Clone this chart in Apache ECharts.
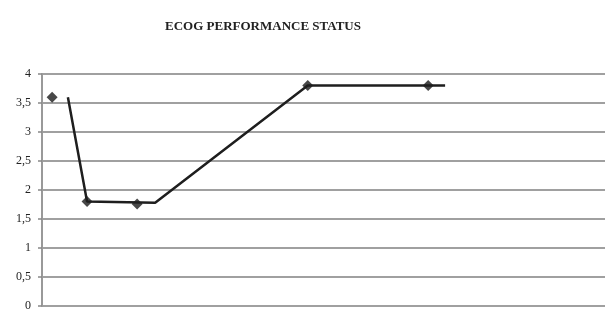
<!DOCTYPE html>
<html>
<head>
<meta charset="utf-8">
<script src="https://cdn.jsdelivr.net/npm/echarts@6/dist/echarts.min.js"></script>
<style>
    html, body { margin: 0; padding: 0; background: #fff; }
    #chart { width: 605px; height: 313px; }
</style>
</head>
<body>
<div id="chart"></div>
<script>
    // line path as it appears in the scan (x on a 0-100 scale across the plot)
    var lineX = [4.6, 8.0, 20.1, 47.2, 71.6];
    var lineY = [3.6, 1.8, 1.78, 3.8, 3.8];
    // diamond markers
    var markX = [1.8, 8.0, 16.9, 47.2, 68.6];
    var markY = [3.6, 1.8, 1.76, 3.8, 3.8];
    var yTicks = [0, 0.5, 1, 1.5, 2, 2.5, 3, 3.5, 4];

    var chart = echarts.init(document.getElementById('chart'));
    chart.setOption({
        animation: false,
        title: {
            text: 'ECOG PERFORMANCE STATUS',
            left: 258,
            textAlign: 'center',
            top: 15,
            textStyle: {
                fontFamily: 'Liberation Serif',
                fontSize: 13,
                fontWeight: 'bold',
                color: '#222'
            }
        },
        grid: { left: 42, right: 0, top: 74, bottom: 7 },
        xAxis: {
            type: 'value',
            min: 0,
            max: 100,
            show: false
        },
        yAxis: {
            type: 'value',
            min: 0,
            max: 4,
            interval: 0.5,
            axisLine: { show: true, lineStyle: { color: '#999', width: 2 } },
            axisTick: { show: true, length: 4, lineStyle: { color: '#888', width: 1.5 } },
            axisLabel: {
                margin: 11,
                fontFamily: 'Liberation Serif',
                fontSize: 12,
                color: '#222',
                formatter: function (v) {
                    return yTicks.indexOf(v) >= 0 ? String(v).replace('.', ',') : '';
                }
            },
            splitLine: { lineStyle: { color: '#808080', width: 1.5 } }
        },
        series: [
            {
                type: 'line',
                data: lineX.map(function (x, i) { return [x, lineY[i]]; }),
                showSymbol: false,
                lineStyle: { color: '#1e1e1e', width: 2.5 }
            },
            {
                type: 'scatter',
                data: markX.map(function (x, i) { return [x, markY[i]]; }),
                symbol: 'diamond',
                symbolSize: 11,
                itemStyle: { color: '#1a1a1a' }
            }
        ]
    });
</script>
</body>
</html>
